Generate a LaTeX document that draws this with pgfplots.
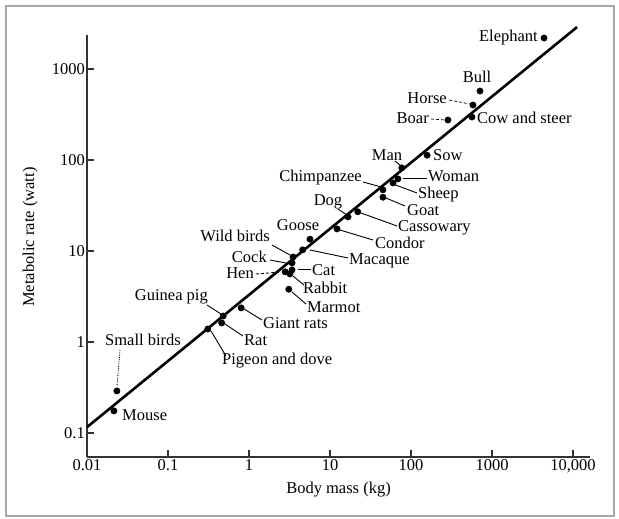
\documentclass[border=0pt]{standalone}
\usepackage{pgfplots}
\pgfplotsset{compat=1.18}
\usepackage{fontspec}
\setmainfont{Liberation Serif}
\begin{document}
\begin{tikzpicture}
\path[use as bounding box] (0,0) rectangle (619pt,519pt);
\draw[black!35, line width=1.4pt] (6pt,3pt) rectangle (614pt,513pt);
\begin{axis}[
  at={(87pt,62pt)}, anchor=south west,
  scale only axis, width=503pt, height=422pt,
  xmode=log, ymode=log,
  xmin=0.01, xmax=16200, ymin=0.0545, ymax=2366,
  axis lines*=left,
  axis line style={black!80, line width=1.6pt},
  clip=false,
  font=\fontsize{16.5}{19}\selectfont,
  xtick={0.01,0.1,1,10,100,1000,10000},
  xticklabels={0.01,0.1,1,10,100,1000,{10,000}},
  ytick={0.1,1,10,100,1000},
  yticklabels={0.1,1,10,100,1000},
  tick align=inside,
  major tick length=7pt,
  tick style={black!80, line width=1.2pt},
  minor tick style={draw=none},
  yticklabel style={inner sep=2pt},
  xticklabel style={inner sep=2pt},
  xlabel={Body mass (kg)},
  ylabel={Metabolic rate (watt)},
  xlabel style={at={(axis description cs:0.5,-0.078)}, anchor=center},
  ylabel style={at={(axis description cs:-0.113,0.521)}, anchor=center, rotate=0},
]
\addplot[black, line width=2.6pt] coordinates {(0.0100,0.116) (11200,2890)};
\addplot[only marks, mark=*, mark size=3.2pt, black] coordinates {
(0.0215,0.175) (0.0234,0.29) (0.31,1.39) (0.46,1.62) (0.48,1.93) (0.80,2.37)
(3.1,3.8) (2.8,5.9) (3.2,5.6) (3.4,6.2) (3.4,7.4) (3.5,8.6) (4.6,10.3)
(5.66,13.5) (12.2,17.5) (16.7,23.7) (22,27) (45,39) (45,47) (60,56)
(69,62) (77,82) (158,113) (286,275) (566,297) (582,402) (711,573) (4385,2190)
};
\end{axis}
\begin{scope}[x=1pt,y=-1pt,shift={(0pt,519pt)},font=\fontsize{16.5}{19}\selectfont, every node/.style={inner sep=0pt}]
\node[anchor=east] at (538,38) {Elephant};
\node at (477,77) {Bull};
\node[anchor=east] at (447,98) {Horse};
\draw[densely dashed, line width=0.7pt] (449,100)--(470,104);
\node[anchor=east] at (429,118) {Boar};
\draw[densely dashed, line width=0.7pt] (431,119)--(445,120);
\node[anchor=west] at (477,118) {Cow and steer};
\node[anchor=west] at (433,155) {Sow};
\node at (387,155) {Man};
\draw[line width=0.9pt] (395,161)--(401,166);
\node[anchor=west] at (428,176) {Woman};
\draw[line width=0.9pt] (403,178)--(427,178);
\node[anchor=east] at (362,178) {Chimpanzee};
\draw[line width=0.9pt] (363,182)--(385,188);
\node[anchor=west] at (418,195) {Sheep};
\draw[line width=0.9pt] (417,193)--(393,184);
\node[anchor=west] at (407,210) {Goat};
\draw[line width=0.9pt] (405,206)--(386,198);
\node at (328,202) {Dog};
\draw[line width=0.9pt] (338,209)--(347,215);
\node[anchor=west] at (398,228) {Cassowary};
\draw[line width=0.9pt] (397,226)--(361,213);
\node[anchor=west] at (375,243) {Condor};
\draw[line width=0.9pt] (373,240)--(340,230);
\node at (298,225) {Goose};
\node[anchor=west] at (349,261) {Macaque};
\draw[line width=0.9pt] (348,258)--(310,250);
\node[anchor=east] at (270,236) {Wild birds};
\draw[line width=0.9pt] (272,245)--(290,255);
\node[anchor=east] at (267,257) {Cock};
\draw[line width=0.9pt] (270,260)--(286,263);
\node[anchor=east] at (254,273) {Hen};
\draw[densely dashed, line width=0.9pt] (256,274)--(281,272);
\node[anchor=west] at (312,270) {Cat};
\draw[line width=0.9pt] (298,269)--(311,269);
\node[anchor=west] at (303,288) {Rabbit};
\draw[line width=0.9pt] (304,285)--(293,276);
\node[anchor=west] at (307,307) {Marmot};
\draw[line width=0.9pt] (306,304)--(292,292);
\node[anchor=east] at (208,297) {Guinea pig};
\draw[line width=0.9pt] (207,305)--(221,314);
\node[anchor=west] at (263,323) {Giant rats};
\draw[line width=0.9pt] (262,320)--(244,309);
\node[anchor=west] at (244,340) {Rat};
\draw[line width=0.9pt] (243,336)--(225,324);
\node[anchor=west] at (222,361) {Pigeon and dove};
\draw[line width=0.9pt] (226,356)--(211,331);
\node[anchor=west] at (105,340) {Small birds};
\draw[densely dotted, line width=0.8pt] (120,350)--(117,386);
\node[anchor=west] at (122,415) {Mouse};
\end{scope}
\end{tikzpicture}
\end{document}
